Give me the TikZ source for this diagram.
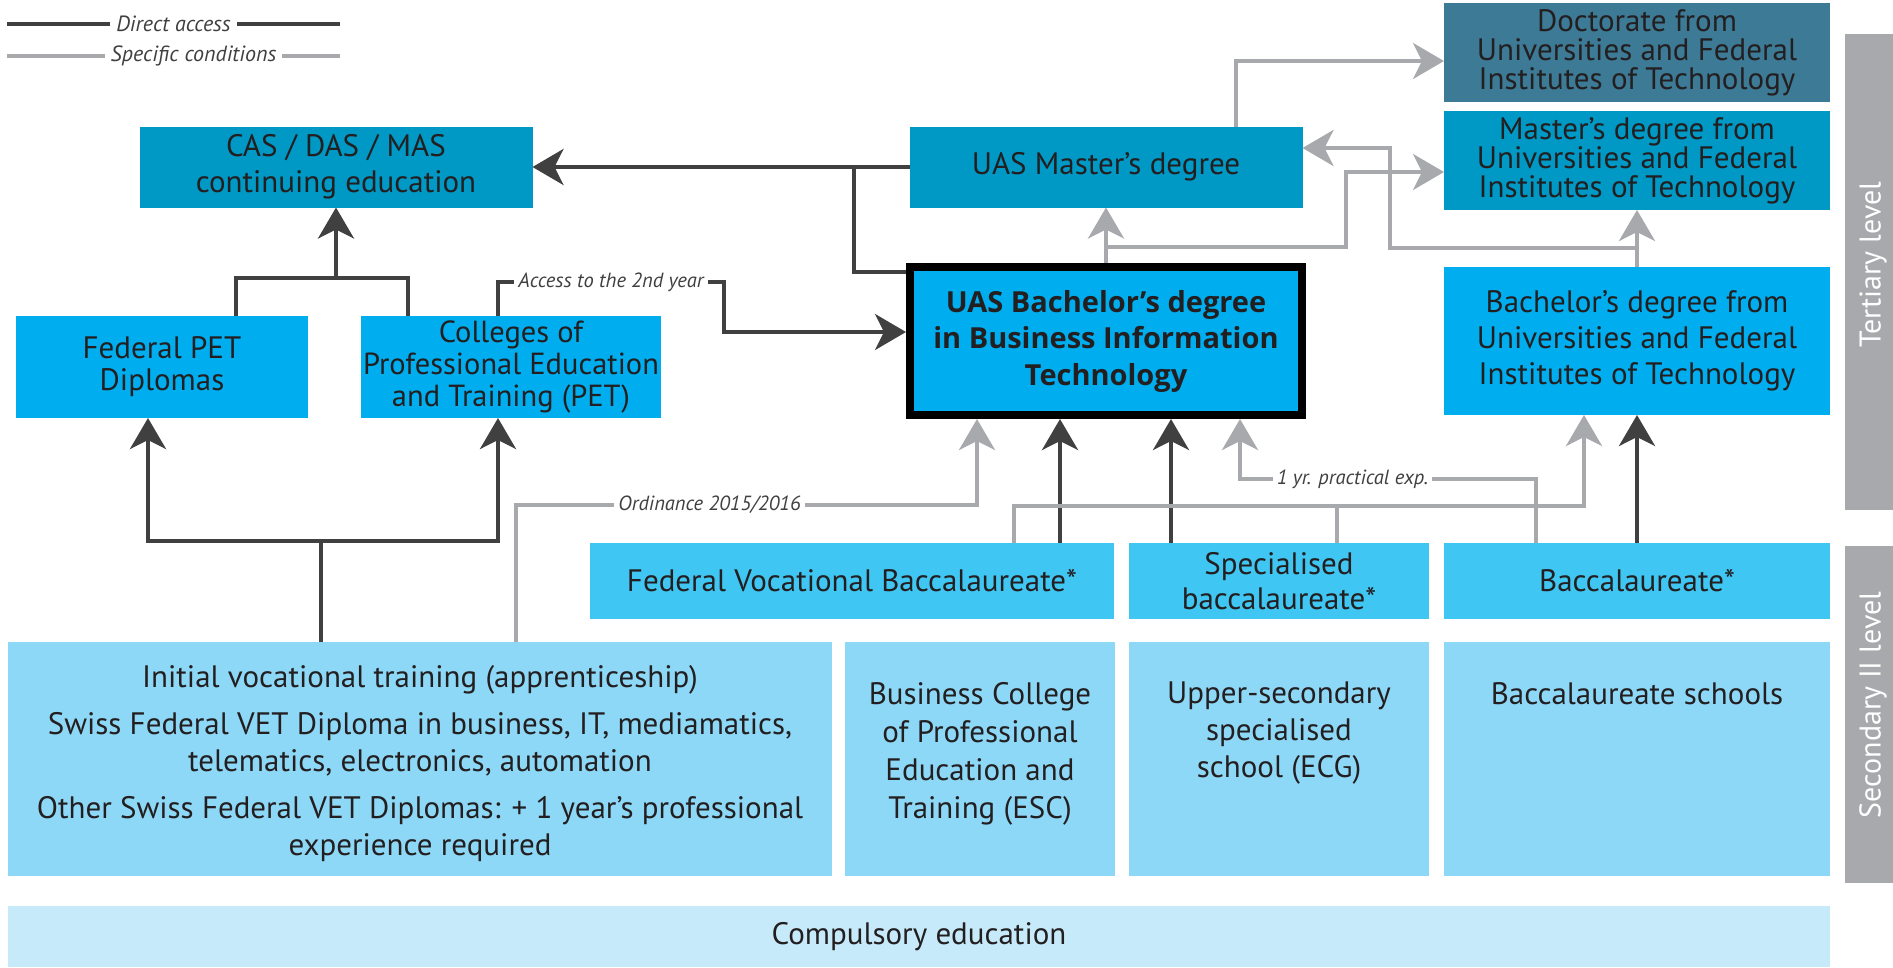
\documentclass[tikz,border=0pt]{standalone}
\usepackage{fontspec}
\setmainfont{PT Sans}
\newfontfamily\heavyfont{Open Sans}
\usetikzlibrary{arrows.meta}
\definecolor{doctblue}{HTML}{3D7A96}
\definecolor{midblue}{HTML}{0098C4}
\definecolor{cyanblue}{HTML}{00AEEF}
\definecolor{baccblue}{HTML}{40C6F2}
\definecolor{lowblue}{HTML}{8ED8F7}
\definecolor{compblue}{HTML}{C6EAFA}
\definecolor{bargray}{HTML}{A7A9AC}
\definecolor{linedark}{HTML}{404041}
\definecolor{txt}{HTML}{231F20}
\tikzset{
  box/.style={fill=#1, text=txt, inner sep=0pt, outer sep=0pt, align=center,
    font=\fontsize{31}{36}\selectfont},
  boxtext/.style={text=txt, inner sep=0pt, align=center, anchor=north,
    font=\fontsize{31}{37}\selectfont},
  dk/.style={draw=linedark, line width=4pt},
  gy/.style={draw=bargray, line width=4pt},
  lab/.style={fill=white, inner xsep=4pt, inner ysep=2pt, text=linedark,
    font=\fontsize{20.5}{22}\selectfont\itshape},
  leg/.style={fill=white, inner xsep=6pt, inner ysep=2pt, text=linedark,
    font=\fontsize{22}{24}\selectfont\itshape},
  bar/.style={fill=bargray, inner sep=0pt, outer sep=0pt},
  barlab/.style={text=white, inner sep=0pt, rotate=90, font=\fontsize{30}{32}\selectfont}
}
\begin{document}
\begin{tikzpicture}[x=1pt, y=-1pt, >={Stealth[length=31pt, width=36pt, inset=9pt]}]
\useasboundingbox (0,0) rectangle (1893,967);

% legend
\coordinate (dA) at (7,24);
\coordinate (dB) at (340,24);
\draw[dk] (dA) -- node[leg]{Direct access} (dB);
\coordinate (sA) at (7,56);
\coordinate (sB) at (340,56);
\draw[gy] (sA) -- node[leg, pos=0.56]{Specific conditions} (sB);

% tertiary level
\node[box=midblue, minimum width=393, minimum height=81] (cas) at (336,167) {CAS / DAS / MAS\\continuing education};
\node[box=midblue, minimum width=393, minimum height=81] (master) at (1106,167) {UAS Master’s degree};
\node[box=doctblue, minimum width=386, minimum height=99, font=\fontsize{31}{29}\selectfont] (doct) at (1637,52.5) {Doctorate from\\Universities and Federal\\Institutes of Technology};
\node[box=midblue, minimum width=386, minimum height=99, font=\fontsize{31}{29}\selectfont] (unimaster) at (1637,160.5) {Master’s degree from\\Universities and Federal\\Institutes of Technology};
\node[box=cyanblue, minimum width=292, minimum height=102, font=\fontsize{31}{32}\selectfont] (pet) at (162,367) {Federal PET\\Diplomas};
\node[box=cyanblue, minimum width=300, minimum height=102, font=\fontsize{30.5}{32}\selectfont] (college) at (511,367) {Colleges of\\Professional Education\\and Training (PET)};
\node[box=cyanblue, draw=black, line width=8pt, outer sep=4pt, minimum width=392, minimum height=148, font=\fontsize{29}{36.5}\heavyfont\bfseries] (bachelor) at (1106,341) {UAS Bachelor’s degree\\in Business Information\\Technology};
\node[box=cyanblue, minimum width=386, minimum height=148] (unibach) at (1637,341) {Bachelor’s degree from\\Universities and Federal\\Institutes of Technology};

% secondary II level
\node[box=baccblue, minimum width=524, minimum height=76] (fvb) at (852,581) {Federal Vocational Baccalaureate*};
\node[box=baccblue, minimum width=300, minimum height=76, font=\fontsize{31}{35}\selectfont] (specbacc) at (1279,581) {Specialised\\baccalaureate*};
\node[box=baccblue, minimum width=386, minimum height=76] (bacc) at (1637,581) {Baccalaureate*};
\node[box=lowblue, minimum width=824, minimum height=234] (ivt) at (420,759) {};
\node[boxtext] (ivt-t) at (420,665) {Initial vocational training (apprenticeship)\\[10pt]
  Swiss Federal VET Diploma in business, IT, mediamatics,\\telematics, electronics, automation\\[10pt]
  Other Swiss Federal VET Diplomas: + 1 year’s professional\\experience required};
\node[box=lowblue, minimum width=270, minimum height=234] (bcpet) at (980,759) {};
\node[boxtext, font=\fontsize{31}{38}\selectfont] (bcpet-t) at (980,682) {Business College\\of Professional\\Education and\\Training (ESC)};
\node[box=lowblue, minimum width=300, minimum height=234] (upsec) at (1279,759) {};
\node[boxtext] (upsec-t) at (1279,682) {Upper-secondary\\specialised\\school (ECG)};
\node[box=lowblue, minimum width=386, minimum height=234] (bschools) at (1637,759) {};
\node[boxtext] (bschools-t) at (1637,682) {Baccalaureate schools};
\node[box=compblue, minimum width=1822, minimum height=61] (comp) at (919,936.5) {Compulsory education};

% level bars
\node[bar, minimum width=48, minimum height=476] (tert) at (1869,272) {};
\node[barlab] (tert-t) at (1873,264.5) {Tertiary level};
\node[bar, minimum width=48, minimum height=337] (sec) at (1869,714.5) {};
\node[barlab] (sec-t) at (1873,705) {Secondary II level};

% direct access
\coordinate (split) at (854,167);
\draw[dk,->] (master) -- (cas);
\draw[dk] (bachelor.west |- 0,272) -| (split);
\coordinate (petbar) at (336,278);
\draw[dk] (pet.north -| 236,0) -- ++(0,-38) -| (college.north -| 408,0);
\draw[dk,->] (petbar) -- (cas.south);
\draw[dk,->] (college.north -| 498,0) |- node[lab, pos=0.75]{Access to the 2nd year} (724,282) |- (bachelor.west |- 0,332);
\coordinate (vetbar) at (321,541);
\draw[dk] (ivt.north -| vetbar) -- (vetbar);
\draw[dk,->] (vetbar) -| (pet.south -| 148,0);
\draw[dk,->] (vetbar) -| (college.south -| 498,0);
\draw[dk,->] (fvb.north -| 1060,0) -- (bachelor.south -| 1060,0);
\draw[dk,->] (specbacc.north -| 1171,0) -- (bachelor.south -| 1171,0);
\draw[dk,->] (bacc) -- (unibach);

% specific conditions
\draw[gy,->] (ivt.north -| 516,0) |- node[lab, pos=0.71]{Ordinance 2015/2016} (977,505) -- (bachelor.south -| 977,0);
\draw[gy,->] (fvb.north -| 1014,0) |- (1584,506) -- (unibach.south -| 1584,0);
\draw[gy] (specbacc.north -| 1337,0) -- ++(0,-37);
\draw[gy,->] (bacc.north -| 1536,0) |- node[lab, pos=0.81]{1 yr. practical exp.} (1240,479) -- (bachelor.south -| 1240,0);
\draw[gy,->] (bachelor) -- (master);
\coordinate (mbr) at (1106,247);
\draw[gy,->] (mbr) -| (1346,172) -- (unimaster.west |- 0,172);
\draw[gy,->] (unibach) -- (unimaster);
\coordinate (ubr) at (1637,248);
\draw[gy,->] (ubr) -| (1390,148) -- (master.east |- 0,148);
\draw[gy,->] (master.north -| 1236,0) |- (doct.west |- 0,61);
\end{tikzpicture}
\end{document}
